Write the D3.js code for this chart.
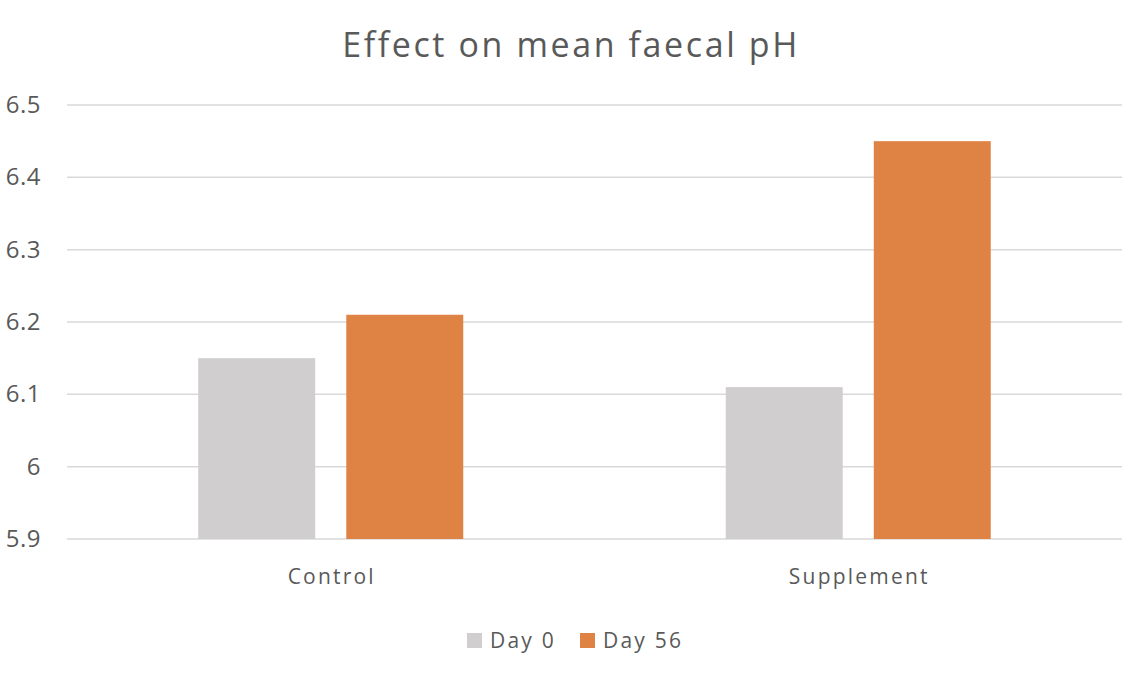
<html>
<head>
<script src="https://d3js.org/d3.v7.min.js"></script>
<style>
  body { margin: 0; background: #fff; }
  text { font-family: "Open Sans", "Noto Sans", sans-serif; fill: #595959; }
</style>
</head>
<body>
<script>
    // chart data
    let categories = ["Control", "Supplement"];
    let seriesNames = ["Day 0", "Day 56"];
    let day0 = [6.15, 6.11];
    let day56 = [6.21, 6.45];
    let yTicks = [5.9, 6, 6.1, 6.2, 6.3, 6.4, 6.5];
    let colors = ["#D0CECE", "#DF8344"];

    let width = 1138, height = 676;
    let margin = {left: 67, right: 16, top: 105, bottom: 137};

    let svg = d3.select("body").append("svg")
        .attr("width", width)
        .attr("height", height);

    let x = d3.scaleBand()
        .domain(categories)
        .range([margin.left, width - margin.right]);

    // two bars per group, 117px each with a 31px gap
    let xInner = d3.scaleBand()
        .domain(seriesNames)
        .range([0, 265])
        .paddingInner(0.21);

    let y = d3.scaleLinear()
        .domain([5.9, 6.5])
        .range([height - margin.bottom, margin.top]);

    // gridlines
    svg.append("g")
        .selectAll("line")
        .data(yTicks)
        .join("line")
        .attr("x1", margin.left)
        .attr("x2", width - margin.right)
        .attr("y1", d => y(d))
        .attr("y2", d => y(d))
        .attr("stroke", "#D9D9D9")
        .attr("stroke-width", 1.5);

    // y tick labels
    svg.append("g")
        .selectAll("text")
        .data(yTicks)
        .join("text")
        .attr("x", 41)
        .attr("y", d => y(d))
        .attr("dy", "0.33em")
        .attr("text-anchor", "end")
        .style("font-size", "24px")
        .style("letter-spacing", "0.5px")
        .text(d => d);

    // bars
    let values = [day0, day56];
    let groups = svg.append("g")
        .selectAll("g")
        .data(categories)
        .join("g")
        .attr("transform", c => `translate(${x(c) + (x.bandwidth() - 265) / 2},0)`);

    groups.selectAll("rect")
        .data((c, ci) => seriesNames.map((s, si) => ({s: s, si: si, v: values[si][ci]})))
        .join("rect")
        .attr("x", d => xInner(d.s))
        .attr("width", xInner.bandwidth())
        .attr("y", d => y(d.v))
        .attr("height", d => y(5.9) - y(d.v))
        .attr("fill", d => colors[d.si]);

    // category labels
    svg.append("g")
        .selectAll("text")
        .data(categories)
        .join("text")
        .attr("x", c => x(c) + x.bandwidth() / 2 + 1)
        .attr("y", 584)
        .attr("text-anchor", "middle")
        .style("font-size", "21px")
        .style("letter-spacing", "2.2px")
        .text(c => c);

    // title
    svg.append("text")
        .attr("x", 571)
        .attr("y", 57)
        .attr("text-anchor", "middle")
        .style("font-size", "34px")
        .style("letter-spacing", "2.6px")
        .text("Effect on mean faecal pH");

    // legend
    let legendX = [467, 580];
    let legend = svg.append("g")
        .selectAll("g")
        .data(seriesNames)
        .join("g")
        .attr("transform", (d, i) => `translate(${legendX[i]},633)`);
    legend.append("rect")
        .attr("width", 15)
        .attr("height", 15)
        .attr("fill", (d, i) => colors[i]);
    legend.append("text")
        .attr("x", 23)
        .attr("y", 15)
        .style("font-size", "21px")
        .style("letter-spacing", "2.2px")
        .text(d => d);
</script>
</body>
</html>
